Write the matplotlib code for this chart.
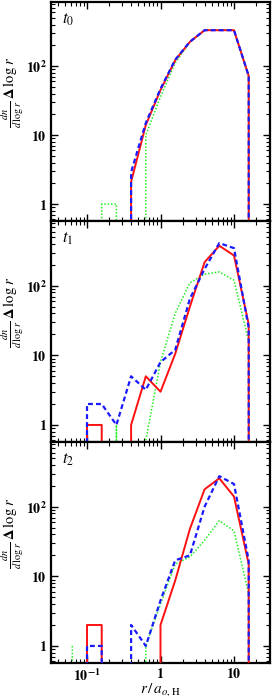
import numpy as np
import matplotlib
matplotlib.use('Agg')
import matplotlib.pyplot as plt
from matplotlib.ticker import FixedLocator, FixedFormatter, LogLocator, NullFormatter

plt.rcParams['mathtext.fontset'] = 'stix'
plt.rcParams['font.family'] = ['Liberation Serif', 'DejaVu Serif']

# bin centres r / a_o,H  (10^(0.2 k))
r = np.array([0.0631, 0.1, 0.1585, 0.2512, 0.3981, 0.631, 1.0, 1.585, 2.512, 3.981, 6.31, 10.0, 15.85, 25.12])

# t0
red_t0   = np.array([0, 0, 0, 0, 2.1, 14, 45, 122, 225, 332, 332, 332, 72, 0])
blue_t0  = np.array([0, 0, 0, 0, 2.9, 15, 47, 124, 226, 332, 332, 332, 72, 0])
green_t0 = np.array([0, 0, 1, 1, 0, 10, 36, 112, 222, 332, 332, 332, 72, 0])

# t1
red_t1   = np.array([0, 1, 1, 0, 1, 5, 3, 10.5, 50, 218, 375, 272, 28, 0])
blue_t1  = np.array([0, 2, 2, 1, 5, 3.2, 8, 12, 65, 174, 410, 347, 25, 0])
green_t1 = np.array([0, 0, 0, 1, 0, 0.6, 8, 40, 110, 147, 158, 120, 16, 0])

# t2
red_t2   = np.array([0, 2, 2, 0, 0, 0, 2, 8.7, 48, 178, 256, 140, 15, 0])
blue_t2  = np.array([0, 1, 1, 0, 2, 1, 4.5, 17, 20, 100, 275, 212, 17, 0])
green_t2 = np.array([1, 0, 0, 0, 0, 1, 4, 15, 19, 33, 63, 45, 5.6, 0])

panels = [
    (r'$t_0$', red_t0, blue_t0, green_t0),
    (r'$t_1$', red_t1, blue_t1, green_t1),
    (r'$t_2$', red_t2, blue_t2, green_t2),
]

fig = plt.figure(figsize=(2.72, 6.98), dpi=100)
left, right = 51 / 272, 270 / 272
edges = [2, 221, 442, 663]
H = 698

for i, (lab, red, blue, green) in enumerate(panels):
    top = 1 - edges[i] / H
    bot = 1 - edges[i + 1] / H
    ax = fig.add_axes([left, bot, right - left, top - bot])
    ax.set_xscale('log')
    ax.set_yscale('log')
    ax.plot(r, green, color='#22ee22', lw=1.1, ls=(0, (1, 1.2)), zorder=2)
    ax.plot(r, red, color='#ff1010', lw=1.4, ls='-', zorder=3)
    ax.plot(r, blue, color='#1a1aff', lw=1.6, ls=(0, (2.2, 1.4)), zorder=4)
    ax.set_xlim(10 ** -1.49, 10 ** 1.49)
    ax.set_ylim(10 ** -0.245, 10 ** 2.93)

    ax.yaxis.set_major_locator(FixedLocator([1, 10, 100]))
    ax.yaxis.set_major_formatter(FixedFormatter([r'$\mathbf{1}$', r'$\mathbf{10}$', r'$\mathbf{10^2}$']))
    ax.yaxis.set_minor_locator(LogLocator(base=10, subs=np.arange(2, 10), numticks=20))
    ax.yaxis.set_minor_formatter(NullFormatter())
    ax.xaxis.set_major_locator(FixedLocator([0.1, 1, 10]))
    ax.xaxis.set_minor_locator(LogLocator(base=10, subs=np.arange(2, 10), numticks=20))
    ax.xaxis.set_minor_formatter(NullFormatter())
    if i == 2:
        ax.xaxis.set_major_formatter(FixedFormatter([r'$\mathbf{10^{-1}}$', r'$\mathbf{1}$', r'$\mathbf{10}$']))
        ax.set_xlabel(r'$r\,/\,a_{o,\mathrm{H}}$', fontsize=11, labelpad=-2)
    else:
        ax.xaxis.set_major_formatter(NullFormatter())

    ax.tick_params(which='both', direction='in', top=True, right=True, labelsize=10, pad=3)
    ax.tick_params(which='major', length=5, width=1.0)
    ax.tick_params(which='minor', length=3, width=0.8)
    for s in ax.spines.values():
        s.set_linewidth(1.6)

    ax.set_ylabel(r'$\frac{dn}{d\,\log\,r}\,\mathbf{\Delta}\,\log\,r$', fontsize=10.5)
    ax.yaxis.set_label_coords(-0.112, 0.59)
    ax.text(0.05, 0.955, lab, transform=ax.transAxes, fontsize=12, va='top', ha='left')

fig.savefig('out.png', dpi=100)
